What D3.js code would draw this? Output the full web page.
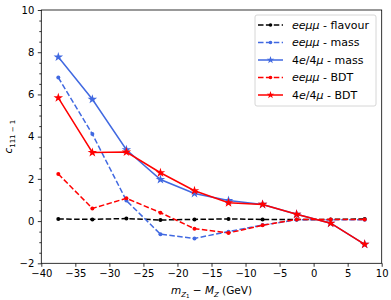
<!DOCTYPE html>
<html>
<head>
<meta charset="utf-8">
<script src="https://cdn.jsdelivr.net/npm/d3@7"></script>
<style>
  body { margin: 0; background: #fff; }
  svg { font-family: "DejaVu Sans", sans-serif; }
</style>
</head>
<body>
<div id="wrapper"></div>
<script>
// data
const xBins = [-37.5, -32.5, -27.5, -22.5, -17.5, -12.5, -7.5, -2.5, 2.5, 7.5];
const flavourEemm = [0.1, 0.08, 0.12, 0.05, 0.08, 0.1, 0.08, 0.08, 0.08, 0.1];
const massEemm = [6.8, 4.12, 0.97, -0.62, -0.82, -0.5, -0.19, 0.06, 0.06, 0.06];
const mass4l = [7.77, 5.77, 3.38, 1.97, 1.31, 0.97, 0.79, 0.32, -0.1, -1.1];
const bdtEemm = [2.23, 0.6, 1.08, 0.4, -0.36, -0.56, -0.2, 0.08, 0.08, 0.08];
const bdt4l = [5.84, 3.25, 3.27, 2.29, 1.44, 0.87, 0.79, 0.32, -0.1, -1.1];
const xTicks = [-40, -35, -30, -25, -20, -15, -10, -5, 0, 5, 10];
const yTicks = [-2, 0, 2, 4, 6, 8, 10];

const series = [
  { name: "flavour", pre: "eeμμ", values: flavourEemm, color: "#000000", dash: "5.5,2.4", marker: "dot" },
  { name: "mass", pre: "eeμμ", values: massEemm, color: "#4169e1", dash: "5.5,2.4", marker: "dot" },
  { name: "mass", pre: "4e/4μ", values: mass4l, color: "#4169e1", dash: null, marker: "star" },
  { name: "BDT", pre: "eeμμ", values: bdtEemm, color: "#ff0000", dash: "5.5,2.4", marker: "dot" },
  { name: "BDT", pre: "4e/4μ", values: bdt4l, color: "#ff0000", dash: null, marker: "star" }
];

const dimensions = {
  width: 391,
  height: 300,
  margins: { top: 10, right: 9.3, bottom: 36.7, left: 41.3 }
};
dimensions.boundedWidth = dimensions.width - dimensions.margins.left - dimensions.margins.right;
dimensions.boundedHeight = dimensions.height - dimensions.margins.top - dimensions.margins.bottom;

const svg = d3.select("#wrapper").append("svg")
  .attr("width", dimensions.width)
  .attr("height", dimensions.height);

const bounds = svg.append("g")
  .attr("transform", `translate(${dimensions.margins.left},${dimensions.margins.top})`);

const xScale = d3.scaleLinear().domain([-40, 10]).range([0, dimensions.boundedWidth]);
const yScale = d3.scaleLinear().domain([-2, 10]).range([dimensions.boundedHeight, 0]);

const fmt = d => d < 0 ? "\u2212" + Math.abs(d) : String(d);

// axes
const xAxis = bounds.append("g")
  .attr("transform", `translate(0,${dimensions.boundedHeight})`)
  .call(d3.axisBottom(xScale).tickValues(xTicks).tickFormat(fmt).tickSize(3.5).tickPadding(3.5));
const yAxis = bounds.append("g")
  .call(d3.axisLeft(yScale).tickValues(yTicks).tickFormat(fmt).tickSize(3.5).tickPadding(3.5));
const yMinor = d3.range(-2, 10.01, 0.5).filter(v => Math.abs(v % 2) > 0.01);
bounds.append("g")
  .call(d3.axisLeft(yScale).tickValues(yMinor).tickFormat("").tickSize(2))
  .select(".domain").remove();

[xAxis, yAxis].forEach(a => {
  a.selectAll("text").attr("font-size", 10).attr("fill", "#000").style("font-family", "DejaVu Sans");
  a.select(".domain").remove();
});
bounds.selectAll("line").attr("stroke", "#000").attr("stroke-width", 0.8);

bounds.append("rect")
  .attr("width", dimensions.boundedWidth)
  .attr("height", dimensions.boundedHeight)
  .attr("fill", "none")
  .attr("stroke", "#000")
  .attr("stroke-width", 0.8);

// lines
const line = d3.line()
  .x((d, i) => xScale(xBins[i]))
  .y(d => yScale(d));

const star = d3.symbol().type(d3.symbolStar).size(28);
const smallStar = d3.symbol().type(d3.symbolStar).size(18);

series.forEach(s => {
  bounds.append("path")
    .attr("d", line(s.values))
    .attr("fill", "none")
    .attr("stroke", s.color)
    .attr("stroke-width", 1.5)
    .attr("stroke-dasharray", s.dash);
  const pts = bounds.append("g").selectAll("g").data(s.values).join("g")
    .attr("transform", (d, i) => `translate(${xScale(xBins[i])},${yScale(d)})`);
  if (s.marker === "dot") {
    pts.append("circle").attr("r", 2).attr("fill", s.color);
  } else {
    pts.append("path").attr("d", star).attr("fill", s.color);
  }
});

// legend
const legend = svg.append("g").attr("transform", "translate(255,15)");
legend.append("rect")
  .attr("width", 121).attr("height", 91).attr("rx", 2)
  .attr("fill", "#fff").attr("fill-opacity", 0.8)
  .attr("stroke", "#ccc").attr("stroke-width", 0.8);
series.forEach((s, i) => {
  const g = legend.append("g").attr("transform", `translate(0,${10 + i * 17.5})`);
  g.append("line").attr("x1", 3).attr("x2", 28)
    .attr("stroke", s.color).attr("stroke-width", 1.5).attr("stroke-dasharray", s.dash);
  if (s.marker === "dot") {
    g.append("circle").attr("cx", 15.5).attr("r", 1.8).attr("fill", s.color);
  } else {
    g.append("path").attr("d", smallStar).attr("transform", "translate(15.5,0)").attr("fill", s.color);
  }
  const t = g.append("text").attr("x", 37).attr("dy", "0.35em").attr("font-size", 11);
  if (s.pre === "eeμμ") {
    t.append("tspan").attr("font-style", "italic").text("eeμμ");
  } else {
    t.append("tspan").text("4");
    t.append("tspan").attr("font-style", "italic").text("e");
    t.append("tspan").text("/4");
    t.append("tspan").attr("font-style", "italic").text("μ");
  }
  t.append("tspan").text(" - " + s.name);
});

// axis labels
const xl = svg.append("text")
  .attr("x", dimensions.margins.left + dimensions.boundedWidth / 2)
  .attr("y", 294)
  .attr("text-anchor", "middle")
  .attr("font-size", 10.5);
xl.append("tspan").attr("font-style", "italic").text("m");
xl.append("tspan").attr("font-style", "italic").attr("font-size", 7).attr("dy", 2.5).text("Z");
xl.append("tspan").attr("font-size", 5.5).attr("dy", 1.5).text("1");
xl.append("tspan").attr("dy", -4).text(" \u2212 ");
xl.append("tspan").attr("font-style", "italic").text("M");
xl.append("tspan").attr("font-style", "italic").attr("font-size", 7).attr("dy", 2.5).text("Z");
xl.append("tspan").attr("dy", -2.5).text(" (GeV)");

const yl = svg.append("text")
  .attr("transform", `translate(12,${dimensions.margins.top + dimensions.boundedHeight / 2}) rotate(-90)`)
  .attr("text-anchor", "middle")
  .attr("font-size", 10.5);
yl.append("tspan").attr("font-style", "italic").text("c");
yl.append("tspan").attr("font-size", 7).attr("dy", 2.5).text("111 \u2212 1");
</script>
</body>
</html>
